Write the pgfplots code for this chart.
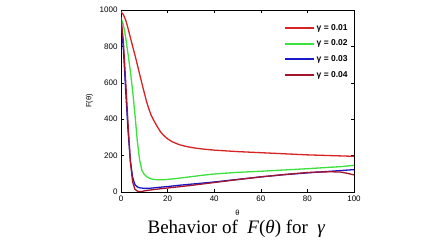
\documentclass[border=0pt]{standalone}
\usepackage{fontspec}
\setmainfont{Liberation Sans}
\newfontfamily\tnr{Liberation Serif}
\usepackage{pgfplots}
\pgfplotsset{compat=1.18}
\definecolor{cA}{RGB}{215,35,35}
\definecolor{cB}{RGB}{60,225,60}
\definecolor{cC}{RGB}{25,25,200}
\definecolor{cD}{RGB}{165,20,45}
\begin{document}
\begin{tikzpicture}
\path[use as bounding box] (0,0) rectangle (448pt,252pt);
\begin{axis}[at={(121pt,60pt)}, anchor=south west, width=233pt, height=182pt, scale only axis,
  xmin=0, xmax=100, ymin=0, ymax=1000,
  xtick={0,20,...,100}, ytick={0,200,...,1000},
  tick align=inside, major tick length=3pt, tick style={black, thin},
  ticklabel style={font=\fontsize{8}{9}\selectfont},
  /pgf/number format/assume math mode=true,
  /pgf/number format/set thousands separator={},
  xlabel={θ}, ylabel={F(θ)},
  label style={font=\fontsize{7.5}{9}\selectfont},
  xlabel style={yshift=-2pt},
  legend style={draw=none, fill=none, at={(0.995,0.945)}, anchor=north east,
    font=\fontsize{8.5}{10}\selectfont\bfseries, row sep=4.2pt},
  legend cell align=left,
  legend image code/.code={\draw[#1, line width=2pt] (0pt,0pt) -- (29pt,0pt);},
]
\addplot[color=cA, line width=1.3pt] coordinates {(0,990)(1,975)(2,945)(3,900)(4,850)(5,800)(6,752)(7,700)(8,648)(9,595)(10,545)(11,495)(12,455)(13,420)(14,395)(15,372)(16,350)(17,330)(18,315)(19,303)(20,292)(22,276)(25,260)(28,250)(32,241)(36,235)(40,230)(45,226)(50,222)(55,219)(60,216)(65,213)(70,210)(75,207)(80,204)(85,202)(90,200)(95,198)(100,196)};
\addlegendentry{γ = 0.01}
\addplot[color=cB, line width=1.3pt] coordinates {(0,955)(1,920)(2,850)(3,760)(4,665)(5,555)(6,425)(7,280)(8,175)(9,118)(10,97)(11,84)(12,77)(13,72)(14,69)(16,67)(18,67)(20,69)(25,76)(30,84)(35,92)(40,99)(50,108)(60,114)(70,121)(80,128)(90,136)(95,140)(100,147)};
\addlegendentry{γ = 0.02}
\addplot[color=cC, line width=1.3pt] coordinates {(0,950)(1,790)(2,560)(3,340)(4,175)(5,80)(6,40)(7,28)(8,23)(10,20)(12,20)(15,24)(20,30)(25,37)(30,43)(40,55)(50,69)(60,83)(70,95)(80,105)(90,114)(100,123)};
\addlegendentry{γ = 0.03}
\addplot[color=cD, line width=1.3pt] coordinates {(0,960)(1,830)(2,610)(3,380)(4,170)(5,55)(6,15)(7,5)(8,2)(9,3)(10,6)(12,10)(15,15)(20,22)(25,29)(30,36)(40,52)(50,68)(60,83)(70,96)(80,107)(85,110)(90,111)(94,110)(97,103)(100,94)};
\addlegendentry{γ = 0.04}
\end{axis}
\node[font=\tnr\fontsize{19}{22}\selectfont] at (236.5pt,23pt) {Behavior of\ \ \textit{F}(\textit{θ}) for\ \ \textit{γ}};
\end{tikzpicture}
\end{document}
